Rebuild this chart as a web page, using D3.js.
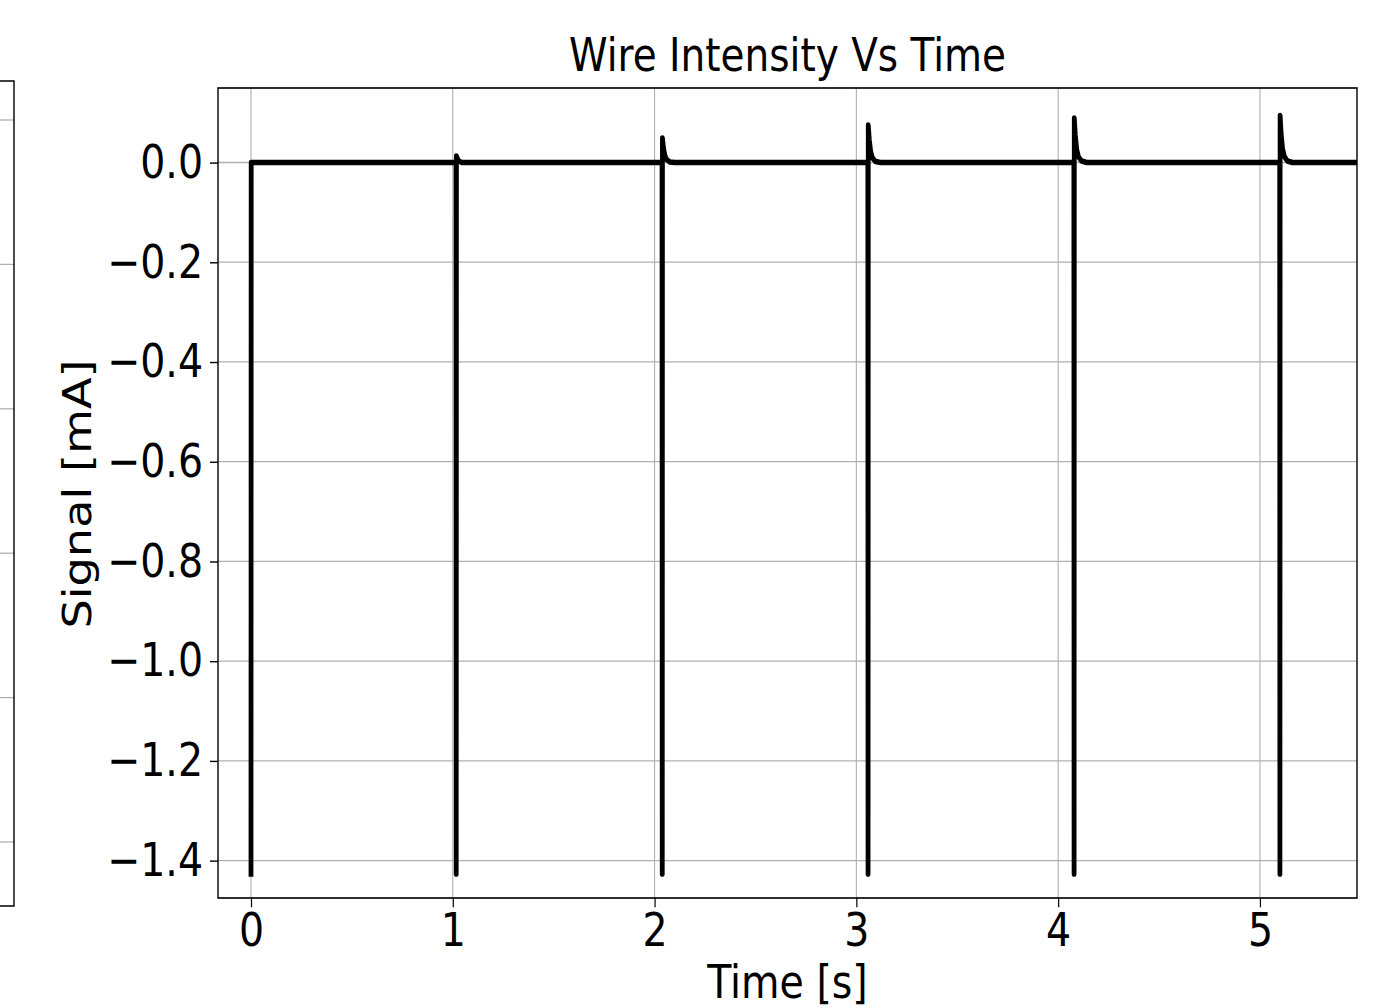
<!doctype html>
<html lang="en">
<head>
  <meta charset="utf-8">
  <title>Wire Intensity Vs Time</title>
  <script src="https://d3js.org/d3.v7.min.js"></script>
  <style>
    body { margin: 0; background: #fff; }
    text { font-family: "DejaVu Sans", sans-serif; fill: #000; }
    .grid line { stroke: #b0b0b0; stroke-width: 1.1; }
    .frame { fill: none; stroke: #000; stroke-width: 1.4; }
    .signal { fill: none; stroke: #000; stroke-width: 4.8; stroke-linejoin: round; stroke-linecap: square; }
  </style>
</head>
<body>
  <div id="chart"></div>
  <script>
    // the picture is stretched vertically, so everything is drawn in a
    // squashed frame and scaled back up by K
    const K = 1.17;

    const xTicks = [0, 1, 2, 3, 4, 5];
    const yTicks = [0.0, -0.2, -0.4, -0.6, -0.8, -1.0, -1.2, -1.4];
    const leftPanelTicks = [0, 1, 2, 3, 4, 5];

    // wire signal (time in s, signal in mA)
    const time = [
      0.000, 0.001,
      1.016, 1.017, 1.018, 1.023, 1.030, 1.045,
      2.037, 2.038, 2.039, 2.044, 2.051, 2.060, 2.075, 2.100,
      3.057, 3.058, 3.059, 3.064, 3.071, 3.080, 3.095, 3.120,
      4.078, 4.079, 4.080, 4.085, 4.092, 4.101, 4.116, 4.141,
      5.098, 5.099, 5.100, 5.105, 5.112, 5.121, 5.136, 5.161,
      5.480
    ];
    const signal = [
      -1.427, 0.000,
      0.000, -1.427, 0.013, 0.008, 0.003, 0.000,
      0.000, -1.427, 0.049, 0.030, 0.014, 0.006, 0.001, 0.000,
      0.000, -1.427, 0.075, 0.046, 0.022, 0.009, 0.002, 0.000,
      0.000, -1.427, 0.089, 0.055, 0.026, 0.011, 0.003, 0.000,
      0.000, -1.427, 0.094, 0.058, 0.028, 0.012, 0.003, 0.000,
      0.000
    ];

    const W = 1380, H = 1008;
    const box = { left: 218, right: 1357, top: 88, bottom: 898 };
    const sy = v => v / K;
    const fontSize = '39.5px';

    const svg = d3.select('#chart').append('svg')
      .attr('width', W)
      .attr('height', H);

    const root = svg.append('g').attr('transform', `scale(1,${K})`);

    const x = d3.scaleLinear().domain([-0.1635, 5.481]).range([box.left, box.right]);
    const y = d3.scaleLinear().domain([-1.4751, 0.1494]).range([sy(box.bottom), sy(box.top)]);

    // piece of the neighbouring panel cut off at the left edge
    const yLeft = d3.scaleLinear().domain([0, 5]).range([sy(842), sy(120)]);
    root.append('g').attr('class', 'grid')
      .selectAll('line')
      .data(leftPanelTicks)
      .join('line')
      .attr('x1', 0).attr('x2', 14)
      .attr('y1', d => yLeft(d)).attr('y2', d => yLeft(d));
    root.append('path')
      .attr('class', 'frame')
      .attr('d', `M0,${sy(81)}H14V${sy(906)}H0`);

    // grid
    const grid = root.append('g').attr('class', 'grid');
    grid.selectAll('.gx')
      .data(xTicks)
      .join('line')
      .attr('class', 'gx')
      .attr('x1', d => x(d)).attr('x2', d => x(d))
      .attr('y1', sy(box.top)).attr('y2', sy(box.bottom));
    grid.selectAll('.gy')
      .data(yTicks)
      .join('line')
      .attr('class', 'gy')
      .attr('x1', box.left).attr('x2', box.right)
      .attr('y1', d => y(d)).attr('y2', d => y(d));

    // signal
    const pts = time.map((t, i) => [t, signal[i]]);
    root.append('defs').append('clipPath').attr('id', 'clip')
      .append('rect')
      .attr('x', box.left).attr('y', sy(box.top))
      .attr('width', box.right - box.left)
      .attr('height', sy(box.bottom) - sy(box.top));
    root.append('path')
      .datum(pts)
      .attr('class', 'signal')
      .attr('clip-path', 'url(#clip)')
      .attr('d', d3.line().x(d => x(d[0])).y(d => y(d[1])));

    // axes
    const xAxis = d3.axisBottom(x).tickValues(xTicks).tickFormat(d3.format('d'))
      .tickSize(8).tickPadding(5);
    const yAxis = d3.axisLeft(y).tickValues(yTicks)
      .tickFormat(d => d3.format('.1f')(d).replace('-', '\u2212'))
      .tickSize(8).tickPadding(7);

    const gx = root.append('g')
      .attr('transform', `translate(0,${sy(box.bottom)})`)
      .call(xAxis);
    const gy = root.append('g')
      .attr('transform', `translate(${box.left},0)`)
      .call(yAxis);
    [gx, gy].forEach(g => {
      g.select('.domain').remove();
      g.selectAll('.tick line').attr('stroke', '#000').attr('stroke-width', 1.2);
      g.selectAll('.tick text')
        .style('font-family', '"DejaVu Sans", sans-serif')
        .style('font-size', fontSize)
        .attr('fill', '#000');
    });

    root.append('rect')
      .attr('class', 'frame')
      .attr('x', box.left).attr('y', sy(box.top))
      .attr('width', box.right - box.left)
      .attr('height', sy(box.bottom) - sy(box.top));

    // labels
    root.append('text')
      .attr('x', (box.left + box.right) / 2)
      .attr('y', sy(71))
      .attr('text-anchor', 'middle')
      .style('font-size', '39px')
      .text('Wire Intensity Vs Time');

    root.append('text')
      .attr('x', (box.left + box.right) / 2)
      .attr('y', sy(998))
      .attr('text-anchor', 'middle')
      .style('font-size', fontSize)
      .text('Time [s]');

    root.append('text')
      .attr('transform', `translate(91,${sy(494)}) rotate(-90)`)
      .attr('text-anchor', 'middle')
      .style('font-size', fontSize)
      .text('Signal [mA]');
  </script>
</body>
</html>
